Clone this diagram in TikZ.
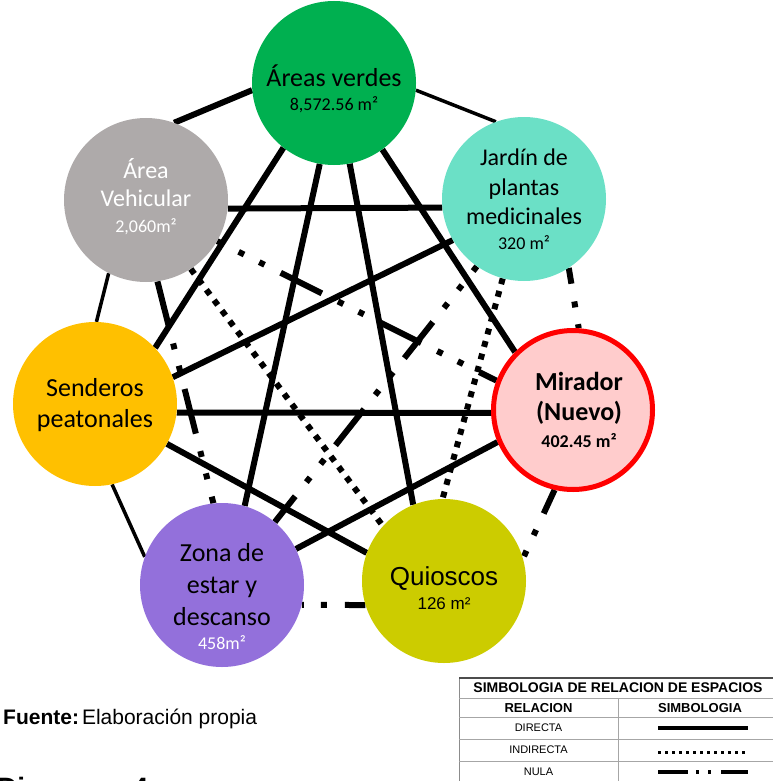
\documentclass[tikz,border=0pt]{standalone}
\usepackage{fontspec}
\setmainfont{Carlito}
\newfontfamily\arialfont{Liberation Sans}
\usetikzlibrary{backgrounds}
\definecolor{verde}{HTML}{00B050}
\definecolor{gris}{HTML}{AEAAAA}
\definecolor{aqua}{HTML}{6BE0C6}
\definecolor{ambar}{HTML}{FFC000}
\definecolor{rosa}{HTML}{FFCCCC}
\definecolor{lila}{HTML}{9370DB}
\definecolor{oliva}{HTML}{CCCC00}
\newcommand{\fs}[2]{\fontsize{#1}{#2}\selectfont}

\begin{document}
\begin{tikzpicture}[x=1pt,y=-1pt,
	espacio/.style={circle,minimum size=164pt,inner sep=0pt},
	rotulo/.style={align=center,inner sep=0pt},
	directa/.style={line width=6pt},
	fina/.style={line width=3.5pt},
	indirecta/.style={line width=6pt,dash pattern=on 6pt off 7pt},
	nula/.style={line width=6pt,dash pattern=on 46pt off 18pt on 6pt off 17pt on 6pt off 18pt},
	celda/.style={font=\arialfont\fs{11}{13}}]
\useasboundingbox (0,0) rectangle (772,781);

% The spaces
\node[espacio,fill=verde] (av) at (334,83) {};
\node[espacio,fill=gris] (ve) at (146,200) {};
\node[espacio,fill=aqua] (ja) at (524,199) {};
\node[espacio,fill=ambar] (se) at (95,404) {};
\node[espacio,fill=rosa,draw=red,line width=5pt,minimum size=159pt] (mi) at (573,410) {};
\node[espacio,fill=lila] (zo) at (222,585) {};
\node[espacio,fill=oliva] (qu) at (444,581) {};

% Their names and areas
\node[rotulo,font=\fs{26}{24}] (avtexto) at ([yshift=-6pt]av.center) {Áreas verdes\\{\fs{18}{22}8,572.56 m²}};
\node[rotulo,text=white,font=\fs{24}{28}] (vetexto) at ([yshift=3pt]ve.center) {Área\\Vehicular\\[-2pt]{\fs{18}{22}2,060m²}};
\node[rotulo,font=\fs{24}{29.5}] (jatexto) at (ja.center) {Jardín de\\plantas\\medicinales\\[-5pt]{\fs{18}{22}320 m²}};
\node[rotulo,font=\fs{26}{31}] (setexto) at ([yshift=-1pt]se.center) {Senderos\\peatonales};
\node[rotulo,font=\bfseries\fs{26}{30}] (mitexto) at ([xshift=6pt]mi.center) {Mirador\\(Nuevo)\\[-3pt]{\fs{18}{22}402.45 m²}};
\node[rotulo,font=\fs{26}{32}] (zotexto) at ([yshift=-12pt]zo.center) {Zona de\\estar y\\descanso\\[-8pt]{\color{white}\fs{18}{22}458m²}};
\node[rotulo,font=\arialfont\fs{26}{24}] (qutexto) at ([yshift=-7pt]qu.center) {Quioscos\\{\fs{17}{20}126 m²}};

% The relations, behind the spaces
\begin{pgfonlayer}{background}
\foreach \a/\b in {av.185/ve.70, av.232/se.43, av.260/zo.74, av.281/qu.112, av.306/mi.135,
	ve.354/ja.186, ja.210/se.19, se.354/mi.182, se.331/qu.160, mi.203/zo.26}{
	\draw[directa] (\a) -- (\b);
}
\foreach \a/\b in {av.355/ja.110, ve.243/se.89, se.282/zo.160}{
	\draw[fina] (\a) -- (\b);
}
\foreach \a/\b in {ve.303/qu.138, ja.255/qu.91}{
	\draw[indirecta] (\a) -- (\b);
}
\foreach \a/\b/\f in {ve.330/mi.159/40, ve.278/zo.96/0, ja.303/mi.86/30, ja.235/zo.50/40,
	mi.257/qu.16/20, zo.346/qu.197/68}{
	\draw[nula,dash phase=\f pt] (\a) -- (\b);
}
\end{pgfonlayer}

% Notes
\node[anchor=base west,inner sep=0pt,font=\arialfont\fs{21}{24}] (fuente) at (3,724) {\textbf{Fuente:}\hspace{3pt}Elaboración propia};
\node[anchor=base west,inner sep=0pt,font=\arialfont\bfseries\fs{28}{32}] (titulo) at (-3,797) {Diagrama 4};

% The legend
\draw[black!45,line width=0.8pt] (459,678) rectangle (777,795);
\foreach \y in {698,717,739,761}{
	\draw[black!35,line width=0.8pt] (459,\y) -- (777,\y);
}
\draw[black!35,line width=0.8pt] (618,698) -- (618,795);
\draw[black!70,line width=1.4pt] (459,678) -- (777,678);
\node[font=\arialfont\bfseries\fs{14}{16}] (leyenda) at (618,688) {SIMBOLOGIA DE RELACION DE ESPACIOS};
\node[font=\arialfont\bfseries\fs{13}{15}] (relacion) at (538.5,708) {RELACION};
\node[font=\arialfont\bfseries\fs{13}{15}] (simbologia) at (700,708) {SIMBOLOGIA};
\node[celda] (directa) at (538.5,728) {DIRECTA};
\node[celda] (indirecta) at (538.5,750) {INDIRECTA};
\node[celda] (nula) at (538.5,772) {NULA};
\draw[line width=4pt] (658,728) -- (748,728);
\draw[line width=3pt,dash pattern=on 3pt off 4pt] (658,752) -- (748,752);
\draw[line width=4pt,dash pattern=on 30pt off 8pt on 3pt off 9pt on 3pt off 10pt on 27pt off 100pt] (658,772) -- (748,772);

\end{tikzpicture}
\end{document}
